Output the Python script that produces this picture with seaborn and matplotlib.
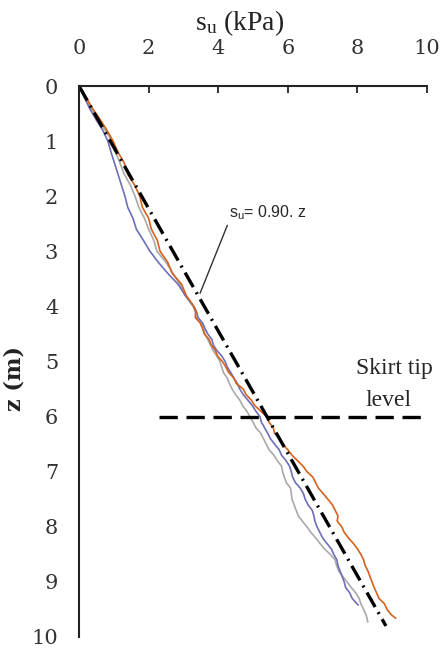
import numpy as np
import pandas as pd
import seaborn as sns
import matplotlib.pyplot as plt

# depth (m) and su (kPa)
z_orange = [0.0, 0.2, 0.4, 0.6, 0.8, 1.0, 1.2, 1.4, 1.6, 1.8, 2.0, 2.2, 2.4, 2.6, 2.8, 3.0,
            3.2, 3.4, 3.6, 3.8,
            4.0, 4.1, 4.2, 4.3, 4.4, 4.5, 4.6, 4.7, 4.8, 4.9, 5.0, 5.1, 5.2, 5.3, 5.4, 5.5,
            5.6, 5.7, 5.8, 5.9, 6.0, 6.1, 6.2, 6.3, 6.4, 6.5, 6.6, 6.7, 6.8, 6.9, 7.0, 7.1,
            7.2, 7.3, 7.4, 7.5, 7.6, 7.7, 7.8, 7.9, 8.0, 8.1, 8.2, 8.3, 8.4, 8.5, 8.6, 8.7,
            8.8, 8.9, 9.0, 9.1, 9.2, 9.3, 9.4, 9.5, 9.6, 9.66]
su_orange = [0.00, 0.20, 0.38, 0.60, 0.80, 0.98, 1.12, 1.30, 1.40, 1.60, 1.75, 1.82, 2.00, 2.08,
             2.25, 2.33, 2.55, 2.68, 2.95, 3.08,
             3.30, 3.36, 3.34, 3.48, 3.55, 3.60, 3.74, 3.80, 3.92, 3.98, 4.12, 4.22, 4.30, 4.45,
             4.52, 4.72, 4.80, 4.95, 5.05, 5.22, 5.40, 5.46, 5.58, 5.62, 5.78, 5.84, 6.00, 6.12,
             6.28, 6.44, 6.55, 6.72, 6.80, 6.88, 7.02, 7.15, 7.28, 7.36, 7.44, 7.42, 7.55, 7.62,
             7.74, 7.88, 8.00, 8.10, 8.18, 8.22, 8.30, 8.36, 8.42, 8.48, 8.55, 8.62, 8.78, 8.85,
             8.98, 9.10]

z_blue = [0.0, 0.2, 0.4, 0.6, 0.8, 1.0, 1.2, 1.4, 1.6, 1.8, 2.0, 2.2, 2.4, 2.6, 2.8, 3.0,
          3.2, 3.4, 3.6, 3.8,
          4.0, 4.1, 4.2, 4.3, 4.4, 4.5, 4.6, 4.7, 4.8, 4.9, 5.0, 5.1, 5.2, 5.3, 5.4, 5.5,
          5.6, 5.7, 5.8, 5.9, 6.0, 6.1, 6.2, 6.3, 6.4, 6.5, 6.6, 6.7, 6.8, 6.9, 7.0, 7.1,
          7.2, 7.3, 7.4, 7.5, 7.6, 7.7, 7.8, 7.9, 8.0, 8.1, 8.2, 8.3, 8.4, 8.5, 8.6, 8.7,
          8.8, 8.9, 9.0, 9.1, 9.2, 9.3, 9.42]
su_blue = [0.00, 0.15, 0.30, 0.48, 0.68, 0.83, 0.92, 1.02, 1.12, 1.22, 1.32, 1.40, 1.55, 1.65,
           1.85, 2.04, 2.28, 2.55, 2.85, 3.05,
           3.30, 3.38, 3.42, 3.55, 3.62, 3.70, 3.82, 3.86, 3.96, 4.10, 4.20, 4.26, 4.36, 4.45,
           4.55, 4.62, 4.72, 4.85, 4.98, 5.08, 5.20, 5.24, 5.33, 5.42, 5.50, 5.62, 5.75, 5.82,
           5.95, 6.05, 6.10, 6.14, 6.22, 6.36, 6.45, 6.50, 6.58, 6.70, 6.75, 6.78, 6.84, 6.92,
           7.00, 7.12, 7.25, 7.32, 7.41, 7.44, 7.50, 7.56, 7.62, 7.66, 7.78, 7.85, 8.02]

z_gray = [0.0, 0.2, 0.4, 0.6, 0.8, 1.0, 1.2, 1.4, 1.6, 1.8, 2.0, 2.2, 2.4, 2.6, 2.8, 3.0,
          3.2, 3.4, 3.6, 3.8,
          4.0, 4.1, 4.2, 4.3, 4.4, 4.5, 4.6, 4.7, 4.8, 4.9, 5.0, 5.1, 5.2, 5.3, 5.4, 5.5,
          5.6, 5.7, 5.8, 5.9, 6.0, 6.1, 6.2, 6.3, 6.4, 6.5, 6.6, 6.7, 6.8, 6.9, 7.0, 7.1,
          7.2, 7.3, 7.4, 7.5, 7.6, 7.7, 7.8, 7.9, 8.0, 8.1, 8.2, 8.3, 8.4, 8.5, 8.6, 8.7,
          8.8, 8.9, 9.0, 9.1, 9.2, 9.3, 9.4, 9.5, 9.6, 9.73]
su_gray = [0.00, 0.18, 0.34, 0.55, 0.75, 0.95, 1.05, 1.18, 1.30, 1.48, 1.61, 1.72, 1.88, 2.00,
           2.15, 2.24, 2.50, 2.70, 2.90, 3.05,
           3.28, 3.34, 3.36, 3.50, 3.58, 3.62, 3.70, 3.78, 3.85, 3.96, 4.05, 4.10, 4.15, 4.26,
           4.32, 4.40, 4.50, 4.62, 4.70, 4.82, 4.91, 5.00, 5.08, 5.22, 5.30, 5.38, 5.46, 5.60,
           5.70, 5.82, 5.85, 5.90, 5.96, 6.08, 6.10, 6.12, 6.18, 6.24, 6.30, 6.42, 6.55, 6.66,
           6.80, 6.92, 7.05, 7.22, 7.36, 7.40, 7.46, 7.58, 7.70, 7.82, 7.95, 8.05, 8.10, 8.18,
           8.25, 8.30]

# su = 0.90 z trend line
z_fit = [0.0, 9.8]
su_fit = [0.0, 8.82]

skirt_z = 6.0

df = pd.concat([
    pd.DataFrame({'su': su_gray, 'z': z_gray, 'test': 'gray'}),
    pd.DataFrame({'su': su_blue, 'z': z_blue, 'test': 'blue'}),
    pd.DataFrame({'su': su_orange, 'z': z_orange, 'test': 'orange'}),
])
colors = {'gray': '#a9a9a9', 'blue': '#6e6eb8', 'orange': '#d4621c'}

sns.set_style('white')
plt.rcParams['font.family'] = ['Liberation Serif', 'DejaVu Serif']
plt.rcParams['mathtext.fontset'] = 'custom'
plt.rcParams['mathtext.rm'] = 'Liberation Serif'
plt.rcParams['mathtext.it'] = 'Liberation Serif'

fig = plt.figure(figsize=(4.47, 6.55), dpi=100)
ax = fig.add_axes([0.1767, 0.0275, 0.7786, 0.8412])

sns.lineplot(data=df, x='su', y='z', hue='test', palette=colors, sort=False,
             estimator=None, linewidth=1.2, legend=False, ax=ax)

ax.plot(su_fit, z_fit, color='black', lw=2.4, linestyle=(0, (5, 1.8, 0.6, 1.8)))
ax.plot([2.3, 10.0], [skirt_z, skirt_z], color='black', lw=2.4, linestyle=(0, (5.5, 2.6)))

ax.set_xlim(0, 10)
ax.set_ylim(10, 0)
ax.set_xticks(range(0, 11, 2))
ax.set_yticks(range(0, 11))
ax.set_xlabel('')

ax.xaxis.tick_top()
for s in ['right', 'bottom']:
    ax.spines[s].set_visible(False)
for s in ['left', 'top']:
    ax.spines[s].set_linewidth(1.5)
    ax.spines[s].set_color('#222222')

ax.tick_params(axis='x', direction='in', length=5, width=1.3, pad=20,
               labelsize=15, labelcolor='#333333', color='#222222')
ax.tick_params(axis='y', direction='in', length=5, width=1.3, pad=15,
               labelsize=15, labelcolor='#333333', color='#222222')
for lab in ax.get_xticklabels() + ax.get_yticklabels():
    lab.set_family('DejaVu Serif')

fig.text(0.535, 0.964, r'$\mathregular{s_u}$ (kPa)', fontsize=20, ha='center', va='center',
         color='#222222')
ax.set_ylabel('z (m)', fontsize=16, fontweight='bold', color='#222222', family='DejaVu Serif')
ax.yaxis.set_label_coords(-0.155, 0.47)

ax.annotate(r'$\mathregular{s_u}$= 0.90. z', xy=(3.48, 3.76), xytext=(4.32, 2.3),
            fontsize=11.5, va='center', ha='left', family=['Liberation Sans', 'DejaVu Sans'],
            arrowprops=dict(arrowstyle='-', color='#333333', lw=1.0, shrinkA=0, shrinkB=0,
                            relpos=(0.02, 0.3)))

ax.text(9.05, 5.12, 'Skirt tip', fontsize=17, ha='center', va='center')
ax.text(8.88, 5.7, 'level', fontsize=17, ha='center', va='center')

fig.savefig('out.png', dpi=100)
